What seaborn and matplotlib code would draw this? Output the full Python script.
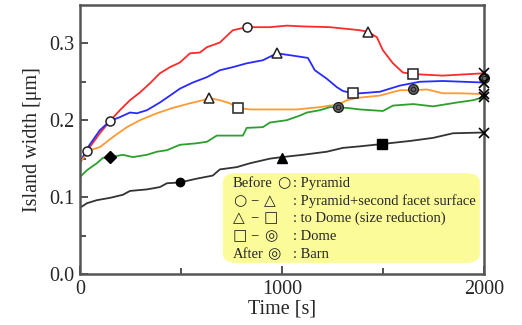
import numpy as np
import pandas as pd
import matplotlib
matplotlib.use("Agg")
import matplotlib.pyplot as plt
import seaborn as sns
from matplotlib.patches import FancyBboxPatch

# ---- data ----
red_t = [0, 35, 99, 149, 198, 248, 297, 347, 396, 446, 495, 545, 594, 629, 693, 757, 826, 941, 1024,
         1104, 1238, 1351, 1386, 1426, 1470, 1500, 1550, 1599, 1650, 1797, 1931, 2000]
red_w = [0.144, 0.160, 0.183, 0.199, 0.213, 0.226, 0.236, 0.248, 0.261, 0.269, 0.275, 0.287, 0.288, 0.295,
         0.301, 0.317, 0.321, 0.321, 0.323, 0.322, 0.321, 0.318, 0.317, 0.315, 0.308, 0.291, 0.274, 0.262,
         0.260, 0.258, 0.260, 0.261]

blue_t = [0, 35, 99, 149, 198, 248, 282, 332, 396, 446, 495, 559, 629, 693, 757, 826, 906, 975, 1054,
          1129, 1163, 1222, 1272, 1302, 1351, 1386, 1485, 1584, 1683, 1797, 2000]
blue_w = [0.144, 0.163, 0.187, 0.199, 0.204, 0.210, 0.209, 0.213, 0.223, 0.232, 0.241, 0.249, 0.256, 0.265,
          0.269, 0.274, 0.278, 0.287, 0.284, 0.281, 0.265, 0.254, 0.243, 0.238, 0.235, 0.235, 0.237, 0.245,
          0.250, 0.251, 0.249]

orange_t = [0, 50, 99, 163, 233, 297, 381, 460, 545, 609, 639, 693, 743, 782, 842, 941, 1074, 1188, 1238,
            1277, 1322, 1371, 1485, 1584, 1650, 1718, 1797, 1881, 2000]
orange_w = [0.145, 0.161, 0.165, 0.178, 0.191, 0.200, 0.209, 0.216, 0.222, 0.226, 0.229, 0.226, 0.222, 0.216,
            0.214, 0.214, 0.214, 0.217, 0.219, 0.220, 0.226, 0.229, 0.232, 0.239, 0.239, 0.240, 0.235, 0.235,
            0.234]

green_t = [0, 35, 84, 114, 153, 213, 262, 332, 381, 431, 495, 579, 629, 678, 807, 826, 906, 941, 1024,
           1089, 1124, 1188, 1238, 1322, 1386, 1500, 1550, 1650, 1748, 1866, 1946, 2000]
green_w = [0.126, 0.135, 0.144, 0.151, 0.152, 0.155, 0.152, 0.155, 0.159, 0.161, 0.168, 0.170, 0.172, 0.180,
           0.180, 0.190, 0.191, 0.197, 0.200, 0.206, 0.210, 0.213, 0.217, 0.216, 0.214, 0.212, 0.219, 0.221,
           0.218, 0.223, 0.226, 0.230]

black_t = [0, 35, 84, 149, 213, 248, 332, 396, 431, 495, 579, 658, 693, 777, 842, 941, 1000, 1104, 1222,
           1302, 1386, 1495, 1634, 1748, 1847, 2000]
black_w = [0.086, 0.092, 0.096, 0.099, 0.103, 0.108, 0.110, 0.113, 0.118, 0.119, 0.124, 0.128, 0.136, 0.139,
           0.144, 0.150, 0.152, 0.155, 0.159, 0.164, 0.166, 0.169, 0.173, 0.177, 0.183, 0.184]

# stage markers: open circle / triangle / square / double circle
open_circle_t = [35, 149, 826]
open_circle_w = [0.160, 0.199, 0.321]
open_tri_t = [1426, 975, 639]
open_tri_w = [0.315, 0.287, 0.229]
open_sq_t = [1650, 1351, 782]
open_sq_w = [0.260, 0.235, 0.216]
dbl_circle_t = [2000, 1650, 1277]
dbl_circle_w = [0.255, 0.240, 0.217]
# filled markers on green / black
green_diamond_t, green_diamond_w = [149], [0.152]
black_dot_t, black_dot_w = [495], [0.119]
black_tri_t, black_tri_w = [1000], [0.151]
black_sq_t, black_sq_w = [1495], [0.169]
# end crosses
end_t = [2000, 2000, 2000, 2000, 2000]
end_w = [0.261, 0.249, 0.234, 0.230, 0.184]

series_names = ["red", "blue", "orange", "green", "black"]
series_colors = ["#ff2a2a", "#2a2aff", "#ff9a33", "#2ca02c", "#333333"]

# legend text: (x in axes fraction, text) tokens per row, then description
legend_tokens = [
    [(0.379, "Before"), (0.488, "\u25cb")],
    [(0.379, "\u25cb"), (0.421, "\u2212"), (0.455, "\u25b3")],
    [(0.379, "\u25b3"), (0.421, "\u2212"), (0.455, "\u25a1")],
    [(0.379, "\u25a1"), (0.421, "\u2212"), (0.455, "\u25ce")],
    [(0.379, "After"), (0.463, "\u25ce")],
]
legend_right = [": Pyramid", ": Pyramid+second facet surface", ": to Dome (size reduction)", ": Dome", ": Barn"]

# ---- build long table ----
frames = []
for name, t, w in zip(series_names,
                      [red_t, blue_t, orange_t, green_t, black_t],
                      [red_w, blue_w, orange_w, green_w, black_w]):
    frames.append(pd.DataFrame({"t": t, "w": w, "s": name}))
df = pd.concat(frames, ignore_index=True)

sns.set_style("ticks")
serif = ["Liberation Serif", "DejaVu Serif"]
plt.rcParams["font.family"] = serif

fig = plt.figure(figsize=(5.22, 3.25), dpi=100)
ax = fig.add_axes([0.153, 0.157, 0.774, 0.828])

sns.lineplot(data=df, x="t", y="w", hue="s", palette=dict(zip(series_names, series_colors)),
             estimator=None, sort=False, lw=1.3, legend=False, ax=ax, zorder=2)

ms = 6.5
ax.plot(open_circle_t, open_circle_w, "o", ms=ms, mfc="white", mec="#222", mew=1.1, zorder=4, ls="none")
ax.plot(open_tri_t, open_tri_w, "^", ms=ms + 0.5, mfc="white", mec="#222", mew=1.1, zorder=4, ls="none")
ax.plot(open_sq_t, open_sq_w, "s", ms=ms + 0.5, mfc="white", mec="#222", mew=1.1, zorder=4, ls="none")
ax.plot(dbl_circle_t, dbl_circle_w, "o", ms=ms + 0.5, mfc="#666", mec="#222", mew=1.0, zorder=4, ls="none",
        clip_on=False)
ax.plot(dbl_circle_t, dbl_circle_w, "o", ms=3.2, mfc="#666", mec="#222", mew=0.8, zorder=5, ls="none",
        clip_on=False)
ax.plot(green_diamond_t, green_diamond_w, "D", ms=6, color="black", zorder=4, ls="none")
ax.plot(black_dot_t, black_dot_w, "o", ms=6, color="black", zorder=4, ls="none")
ax.plot(black_tri_t, black_tri_w, "^", ms=7, color="black", zorder=4, ls="none")
ax.plot(black_sq_t, black_sq_w, "s", ms=6.5, color="black", zorder=4, ls="none")
ax.plot(end_t, end_w, "x", ms=6.5, color="black", mew=1.2, zorder=5, ls="none", clip_on=False)

ax.set_xlim(0, 2000)
ax.set_ylim(0, 0.35)
ax.set_xticks([0, 1000, 2000])
ax.set_xticks([500, 1500], minor=True)
ax.set_yticks([0.0, 0.1, 0.2, 0.3])
ax.set_yticks([0.05, 0.15, 0.25], minor=True)
ax.set_yticklabels(["0.0", "0.1", "0.2", "0.3"])
ax.tick_params(which="both", direction="in", color="#444", width=1.3)
ax.tick_params(which="major", length=6, labelsize=14.5, pad=4)
ax.tick_params(which="minor", length=4)
for lab in ax.get_xticklabels() + ax.get_yticklabels():
    lab.set_family(serif)
for sp in ax.spines.values():
    sp.set_visible(True)
    sp.set_color("#555")
    sp.set_linewidth(1.8)

ax.set_xlabel("Time [s]", fontsize=14.5, family=serif, labelpad=1)
ax.set_ylabel("Island width [\u03bcm]", fontsize=14.5, family=serif, labelpad=5)

# annotation box
box = FancyBboxPatch((0.354, 0.041), 0.636, 0.334, boxstyle="round,pad=0,rounding_size=0.035",
                     transform=ax.transAxes, facecolor="#fbfb9a", edgecolor="none", zorder=1)
ax.add_patch(box)
row_y = [0.338, 0.271, 0.208, 0.141, 0.074]
sym_family = ["DejaVu Sans"]
for yy, toks, r in zip(row_y, legend_tokens, legend_right):
    for xx, tok in toks:
        use_serif = tok.isascii() or tok == "\u2212"
        ax.text(xx, yy, tok, transform=ax.transAxes, fontsize=10.5 if use_serif else 11,
                va="center", ha="left",
                family=serif if use_serif else sym_family, zorder=6)
    ax.text(0.527, yy, r, transform=ax.transAxes, fontsize=10.5, va="center", ha="left",
            family=serif, zorder=6)

fig.savefig("out.png", dpi=100)
